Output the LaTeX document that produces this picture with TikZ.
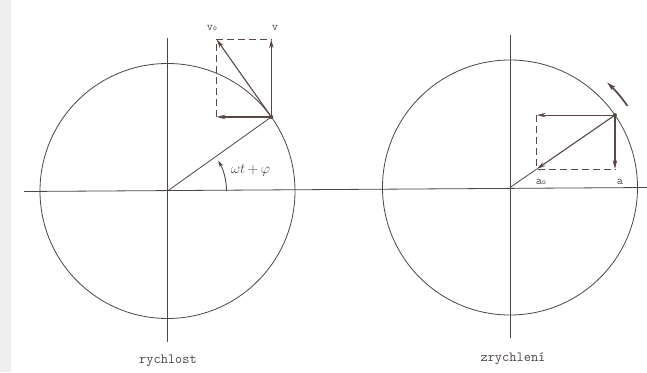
\documentclass[tikz,border=0pt]{standalone}
\usetikzlibrary{arrows.meta,calc}
\definecolor{ink}{RGB}{78,70,68}
\definecolor{vink}{RGB}{88,72,68}
\definecolor{strip}{RGB}{238,238,238}
\tikzset{
  thinline/.style={draw=ink,line width=0.8pt},
  vec/.style={draw=vink,line width=1.1pt,-{Stealth[length=9pt,width=4.5pt]}},
  dashline/.style={draw=vink,line width=1pt,dash pattern=on 7pt off 4pt},
  lbl/.style={text=ink,font=\fontsize{12}{12}\selectfont\ttfamily,inner sep=0pt},
  captext/.style={text=ink,font=\fontsize{14}{14}\selectfont\ttfamily,inner sep=0pt},
  dotstyle/.style={fill=vink,circle,inner sep=0pt,minimum size=4pt}
}
\begin{document}
\begin{tikzpicture}[x=1pt,y=1pt]
\useasboundingbox (0,0) rectangle (647,372);
\fill[white] (0,0) rectangle (647,372);
\fill[strip] (0,0) rectangle (11,372);
% centres and axes
\coordinate (C1) at (167.5,181);
\coordinate (C2) at (510,184.5);
\coordinate (HL) at (24,180.5);
\coordinate (HR) at (647,184.5);
\coordinate (V1t) at (167.5,334);
\coordinate (V1b) at (167.5,30);
\coordinate (V2t) at (510,337);
\coordinate (V2b) at (510,34);
\draw[thinline] (HL) -- (HR);
\draw[thinline] (V1t) -- (V1b);
\draw[thinline] (V2t) -- (V2b);
\draw[thinline] (C1) circle[radius=127.5];
\draw[thinline] (C2) circle[radius=127.5];
% ---- velocity ----
\coordinate (P1) at ($(C1)+(35.5:127.5)$);
\coordinate (V0) at ($(P1)+(125.2:95)$);
\coordinate (VX) at (V0 |- P1);
\coordinate (VY) at (P1 |- V0);
\draw[thinline] (C1) -- (P1);
\draw[dashline] (VX) -- (V0) -- (VY);
\draw[vec] (P1) -- (VX);
\draw[vec] (P1) -- (VY);
\draw[vec] (P1) -- (V0);
\node[dotstyle] (D1) at (P1) {};
\draw[draw=ink,line width=0.9pt,-{Stealth[length=7pt,width=4pt]}] ($(C1)+(0:59)$) arc[start angle=0,end angle=31,radius=59];
\node[text=ink,font=\fontsize{15}{15}\selectfont,inner sep=0pt] (ang) at (250.5,202) {$\omega t{\,+\,}\varphi$};
\node[lbl] (lv0) at (212,344) {v{\fontsize{8}{8}\selectfont o}};
\node[lbl] (lv) at (275,344) {v};
% ---- acceleration ----
\coordinate (P2) at ($(C2)+(34.6:127.5)$);
\coordinate (A0) at ($(P2)!0.745!(C2)$);
\coordinate (AX) at (A0 |- P2);
\coordinate (AY) at (P2 |- A0);
\draw[thinline] (C2) -- (A0);
\draw[dashline] (AX) -- (A0) -- (AY);
\draw[vec] (P2) -- (AX);
\draw[vec] (P2) -- (AY);
\draw[vec] (P2) -- (A0);
\node[dotstyle] (D2) at (P2) {};
\draw[draw=vink,line width=1.7pt,-{Stealth[length=9pt,width=5pt]}] ($(C2)+(34.8:143)$) arc[start angle=34.8,end angle=47.2,radius=143];
\node[lbl] (la0) at (541,190) {a{\fontsize{8}{8}\selectfont o}};
\node[lbl] (la) at (620,190) {a};
% captions
\node[captext] (c1) at (168,11) {rychlost};
\node[captext] (c2) at (513,13) {zrychlení};
\end{tikzpicture}
\end{document}
